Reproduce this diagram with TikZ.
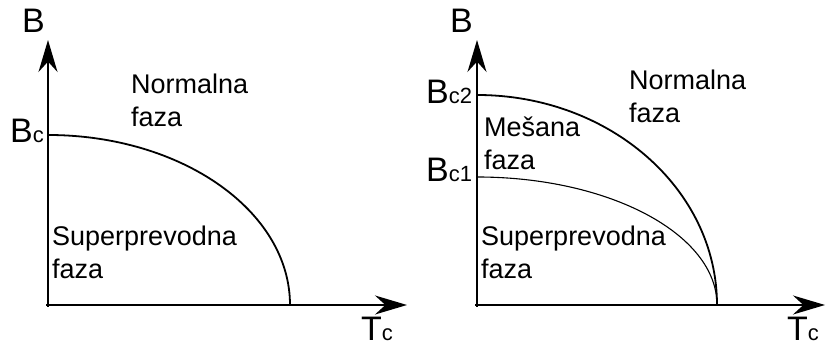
\documentclass[tikz,border=0pt]{standalone}
\usepackage{fontspec}
\setmainfont{Liberation Sans}
\usetikzlibrary{arrows.meta}

\newcommand{\smallsub}[1]{{\fontsize{22pt}{22pt}\selectfont #1}}

\begin{document}
\begin{tikzpicture}[
    x=1pt, y=1pt,
    >={Stealth[length=32pt,width=19pt]},
    axis/.style={->,line width=1.8pt},
    critline/.style={line width=1.8pt},
    lowline/.style={line width=1.1pt},
    axlabel/.style={anchor=base west,inner sep=0pt,font=\fontsize{34pt}{34pt}\selectfont},
    phase/.style={anchor=base west,inner sep=0pt,align=left,
                  font=\fontsize{27pt}{33pt}\selectfont},
  ]
  \useasboundingbox (0,0) rectangle (826,344);

  % --- left diagram: one critical field ---
  \coordinate (o1)  at (48,39);
  \coordinate (x1)  at (407,39);
  \coordinate (y1)  at (48,304);
  \coordinate (bc)  at (48,209);
  \coordinate (tc1) at (290,39);
  \draw[axis] ([xshift=-2pt]o1) -- (x1);
  \draw[axis] ([yshift=-2pt]o1) -- (y1);
  \draw[critline] (bc) arc[start angle=90,end angle=0,x radius=242pt,y radius=170pt];

  \node[axlabel] (bl)  at (22,311) {B};
  \node[axlabel] (bcl) at (10,201) {B\smallsub{c}};
  \node[axlabel] (tl)  at (361,3)  {T\smallsub{c}};
  % (base of a two-line node = baseline of its last line)
  \node[phase] (norm1) at (131,217) {Normalna\\faza};
  \node[phase] (sup1)  at (52,65)   {Superprevodna\\faza};

  % --- right diagram: two critical fields ---
  \coordinate (o2)  at (477,39);
  \coordinate (x2)  at (825,39);
  \coordinate (y2)  at (477,304);
  \coordinate (bc2) at (477,249);
  \coordinate (bc1) at (477,167);
  \draw[axis] ([xshift=-2pt]o2) -- (x2);
  \draw[axis] ([yshift=-2pt]o2) -- (y2);
  \draw[critline] (bc2) arc[start angle=90,end angle=0,x radius=240pt,y radius=210pt];
  \draw[lowline]  (bc1) arc[start angle=90,end angle=0,x radius=240pt,y radius=128pt];

  \node[axlabel] (br)   at (450,311) {B};
  \node[axlabel] (bc2l) at (426,240) {B\smallsub{c2}};
  \node[axlabel] (bc1l) at (426,162) {B\smallsub{c1}};
  \node[axlabel] (tr)   at (787,3)   {T\smallsub{c}};
  \node[phase] (norm2) at (629,221) {Normalna\\faza};
  \node[phase] (mix2)  at (484,174) {Mešana\\faza};
  \node[phase] (sup2)  at (481,65)  {Superprevodna\\faza};
\end{tikzpicture}
\end{document}
